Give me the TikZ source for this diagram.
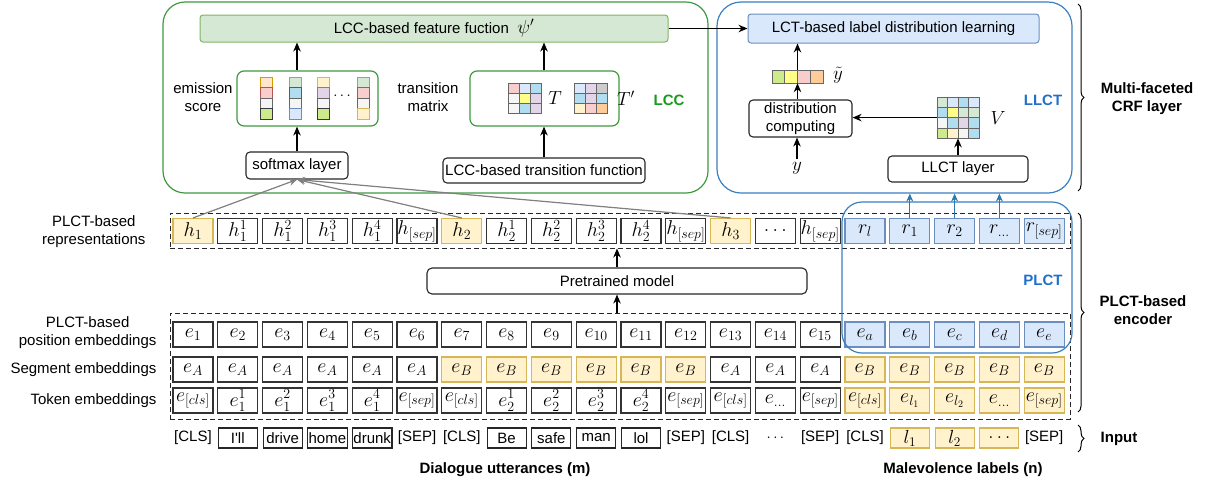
\RequirePackage{fix-cm}
\documentclass[tikz,border=0pt]{standalone}
\usepackage[no-math]{fontspec}
\setmainfont{Liberation Sans}
\usetikzlibrary{arrows.meta,decorations.pathreplacing,calc}

\definecolor{f-or}{HTML}{FFE6CC}\definecolor{d-or}{HTML}{D79B00}
\definecolor{f-rd}{HTML}{F8CECC}\definecolor{d-rd}{HTML}{B85450}
\definecolor{f-gy}{HTML}{F5F5F5}\definecolor{d-gy}{HTML}{666666}
\definecolor{f-lm}{HTML}{CDEB8B}\definecolor{d-lm}{HTML}{36393D}
\definecolor{f-gn}{HTML}{D5E8D4}\definecolor{d-gn}{HTML}{82B366}
\definecolor{f-bl}{HTML}{B1DDF0}\definecolor{d-bl}{HTML}{10739E}
\definecolor{f-lb}{HTML}{DAE8FC}\definecolor{d-lb}{HTML}{6C8EBF}
\definecolor{f-yl}{HTML}{FFF2CC}\definecolor{d-yl}{HTML}{D6B656}
\definecolor{f-pu}{HTML}{E1D5E7}\definecolor{d-pu}{HTML}{9673A6}
\definecolor{f-y2}{HTML}{FFFF88}\definecolor{d-y2}{HTML}{36393D}
\definecolor{f-o2}{HTML}{FFCC99}\definecolor{d-o2}{HTML}{36393D}
\definecolor{f-g2}{HTML}{CCCCCC}\definecolor{d-g2}{HTML}{666666}
\definecolor{lccgreen}{HTML}{3E9A3E}
\definecolor{lcctext}{HTML}{1A9A1A}
\definecolor{llctblue}{HTML}{3A80C0}
\definecolor{llcttext}{HTML}{2070C8}
\definecolor{arrblue}{HTML}{2A7AB0}

\newcommand\mcell[6]{\filldraw[fill=#5,draw=#6,line width=0.8pt] (#1,#2) rectangle ++(#3,#4);}

\tikzset{
  base/.style={font=\fontsize{15}{18}\selectfont},
  lblb/.style={font=\fontsize{15}{18}\selectfont\bfseries, align=center},
  mathf/.style={font=\fontsize{19}{19}\selectfont},
  wcell/.style={draw=black!80, line width=1.1pt, fill=white, minimum width=40pt,
                minimum height=25pt, inner sep=0pt, font=\fontsize{20}{20}\selectfont},
  ycell/.style={wcell, draw=d-yl, fill=f-yl},
  bcell/.style={wcell, draw=d-lb, fill=f-lb},
  ibox/.style={draw=black!85, line width=1.1pt, minimum width=39pt, minimum height=20pt,
               inner sep=1pt, base},
  iybox/.style={ibox, draw=d-yl, fill=f-yl, font=\fontsize{19}{19}\selectfont},
  itxt/.style={inner sep=0pt, base},
  tbox/.style={draw=black!85, line width=1.1pt, rounded corners=4pt, inner sep=2pt, base},
  gbox/.style={draw=lccgreen, line width=1.2pt, rounded corners=7pt},
  featbox/.style={draw=d-gn, fill=f-gn, line width=1pt, rounded corners=3pt, base},
  lctbox/.style={draw=d-lb, fill=f-lb, line width=1pt, rounded corners=3pt, base},
  lccframe/.style={draw=lccgreen, line width=1.2pt, rounded corners=22pt},
  llctframe/.style={draw=llctblue, line width=1.2pt, rounded corners=24pt},
  plctframe/.style={draw=llctblue, line width=1.2pt, rounded corners=20pt},
  dashbox/.style={draw=black!85, line width=1pt, dash pattern=on 5pt off 3pt},
  arr/.style={-{Stealth[length=9pt,width=7.5pt]}, line width=1.2pt},
  garr/.style={-{Stealth[length=8pt,width=7pt]}, line width=1.2pt, draw=black!50, fill=black!50},
  barr/.style={-{Stealth[length=8pt,width=7pt]}, line width=1.1pt, draw=arrblue, fill=arrblue},
  brc/.style={decorate, decoration={brace, amplitude=6pt}, line width=1pt},
}

\begin{document}
\begin{tikzpicture}[x=1pt,y=-1pt]
\useasboundingbox (0,0) rectangle (1210,483);

% ---------------- outer frames
\node[lccframe, minimum width=545, minimum height=191] (lcc) at (435.5,97.5) {};
\node[llctframe, minimum width=355, minimum height=191] (llct) at (894.5,97.5) {};

% ---------------- LCC part
\node[featbox, minimum width=468, minimum height=27] (feat) at (434,28.5)
  {LCC-based feature fuction~~{\fontsize{19}{19}\selectfont$\psi'$}};
\node[lctbox, minimum width=291, minimum height=29] (lct) at (893.5,28.5)
  {LCT-based label distribution learning};

\node[gbox, minimum width=141, minimum height=55] (emis) at (307.5,98.5) {};
\node[base, align=center] (emislab) at (203,97.5) {emission\\score};
\node[tbox, minimum width=102, minimum height=27] (smax) at (297,165.5) {softmax layer};

\foreach \cx/\a/\b/\c/\d in {260.5/or/rd/gy/lm, 289.5/gn/bl/gy/lb, 317.5/yl/pu/gy/lm, 357.5/gn/rd/gy/yl}{
  \mcell{\cx}{77}{11.5}{10.5}{f-\a}{d-\a}
  \mcell{\cx}{87.5}{11.5}{10.5}{f-\b}{d-\b}
  \mcell{\cx}{98}{11.5}{10.5}{f-\c}{d-\c}
  \mcell{\cx}{108.5}{11.5}{10.5}{f-\d}{d-\d}
}
\node[base] (edots) at (342,96) {$\cdots$};

\node[gbox, minimum width=149, minimum height=55] (trans) at (544.5,98.5) {};
\node[base, align=center] (translab) at (428,97.5) {transition\\matrix};
\node[tbox, minimum width=202, minimum height=25] (tfun) at (544,170.5) {LCC-based transition function};

\foreach \row [count=\ri from 0] in {{rd,lb,bl},{gy,y2,pu},{gy,bl,pu}}{
  \foreach \c [count=\ci from 0] in \row {
    \mcell{508+11*\ci}{83+10*\ri}{11}{10}{f-\c}{d-gy}
  }
}
\foreach \row [count=\ri from 0] in {{lb,pu,g2},{bl,pu,bl},{yl,rd,o2}}{
  \foreach \c [count=\ci from 0] in \row {
    \mcell{574+11*\ci}{83+10*\ri}{11}{10}{f-\c}{d-gy}
  }
}
\node[mathf] (tlab) at (555,98) {$T$};
\node[mathf] (tplab) at (626,98) {$T'$};
\node[lblb, text=lcctext] (lcclab) at (669,100) {LCC};

% ---------------- LLCT part
\node[minimum width=51, minimum height=13, inner sep=0pt] (ytil) at (797.5,76.5) {};
\foreach \c [count=\ci from 0] in {lm,y2,rd,o2}{
  \mcell{772+12.75*\ci}{70}{12.75}{13}{f-\c}{d-gy}
}
\node[mathf] (ytillab) at (838,75) {$\tilde y$};
\node[tbox, minimum width=103, minimum height=37, align=center] (dist) at (800.5,118.5)
  {distribution\\computing};
\node[mathf] (ylab) at (797,168) {$y$};

\node[minimum width=42, minimum height=41.2, inner sep=0pt] (vmat) at (958,117.6) {};
\foreach \row [count=\ri from 0] in {{gn,lb,bl,lb},{bl,y2,gn,gn},{gy,bl,pu,bl},{lm,yl,gy,bl}}{
  \foreach \c [count=\ci from 0] in \row {
    \mcell{937+10.5*\ci}{97+10.3*\ri}{10.5}{10.3}{f-\c}{d-gy}
  }
}
\node[mathf] (vlab) at (998,118) {$V$};
\node[tbox, minimum width=140, minimum height=26] (llctl) at (958,169) {LLCT layer};
\node[lblb, text=llcttext] (llctlab) at (1043,100) {LLCT};

% ---------------- encoder dashed boxes
\node[dashbox, minimum width=900, minimum height=35] (repbox) at (620,230.5) {};
\node[dashbox, minimum width=900, minimum height=106] (embbox) at (620,366) {};

% representations
\foreach \s/\c [count=\i from 0] in {
  ycell/{$h_1$}, wcell/{$h_1^1$}, wcell/{$h_1^2$}, wcell/{$h_1^3$}, wcell/{$h_1^4$}, wcell/{$h_{[sep]}$},
  ycell/{$h_2$}, wcell/{$h_2^1$}, wcell/{$h_2^2$}, wcell/{$h_2^3$}, wcell/{$h_2^4$}, wcell/{$h_{[sep]}$},
  ycell/{$h_3$}, wcell/{$\dots$}, wcell/{$h_{[sep]}$},
  bcell/{$r_l$}, bcell/{$r_1$}, bcell/{$r_2$}, bcell/{$r_{\dots}$}, bcell/{$r_{[sep]}$}}{
  \node[\s] (r\i) at ({193+44.8*\i},231) {\c};
}

% position embeddings
\foreach \i [evaluate=\i as \n using int(\i+1)] in {0,...,14}{
  \node[wcell] (p\i) at ({193+44.8*\i},334.5) {$e_{\n}$};
}
\foreach \c [count=\i from 15] in {a,b,c,d,e}{
  \node[bcell] (p\i) at ({193+44.8*\i},334.5) {$e_\c$};
}

% segment embeddings
\foreach \s/\c [count=\i from 0] in {
  wcell/A, wcell/A, wcell/A, wcell/A, wcell/A, wcell/A,
  ycell/B, ycell/B, ycell/B, ycell/B, ycell/B, ycell/B,
  wcell/A, wcell/A, wcell/A,
  ycell/B, ycell/B, ycell/B, ycell/B, ycell/B}{
  \node[\s] (s\i) at ({193+44.8*\i},369.5) {$e_\c$};
}

% token embeddings
\foreach \s/\c [count=\i from 0] in {
  wcell/{$e_{[cls]}$}, wcell/{$e_1^1$}, wcell/{$e_1^2$}, wcell/{$e_1^3$}, wcell/{$e_1^4$}, wcell/{$e_{[sep]}$},
  wcell/{$e_{[cls]}$}, wcell/{$e_2^1$}, wcell/{$e_2^2$}, wcell/{$e_2^3$}, wcell/{$e_2^4$}, wcell/{$e_{[sep]}$},
  wcell/{$e_{[cls]}$}, wcell/{$e_{\dots}$}, wcell/{$e_{[sep]}$},
  ycell/{$e_{[cls]}$}, ycell/{$e_{l_1}$}, ycell/{$e_{l_2}$}, ycell/{$e_{\dots}$}, ycell/{$e_{[sep]}$}}{
  \node[\s] (t\i) at ({193+44.8*\i},400.5) {\c};
}

% input row
\foreach \s/\c [count=\i from 0] in {
  itxt/{[CLS]}, ibox/{I\textquotesingle ll}, ibox/{drive}, ibox/{home}, ibox/{drunk}, itxt/{[SEP]},
  itxt/{[CLS]}, ibox/{Be}, ibox/{safe}, ibox/{man}, ibox/{lol}, itxt/{[SEP]},
  itxt/{[CLS]}, itxt/{$\cdots$}, itxt/{[SEP]},
  itxt/{[CLS]}, iybox/{$l_1$}, iybox/{$l_2$}, iybox/{$\dots$}, itxt/{[SEP]}}{
  \node[\s] (in\i) at ({193+44.8*\i},438) {\c};
}

% PLCT frame
\node[plctframe, minimum width=230, minimum height=151] (plct) at (957,277.5) {};
\node[lblb, text=llcttext] (plctlab) at (1043,280) {PLCT};

% pretrained model
\node[tbox, minimum width=380, minimum height=26, rounded corners=5pt] (pre) at (617,281) {Pretrained model};

% left labels
\node[base, align=center, anchor=east] (lrep) at (149,231.5) {PLCT-based\\representations};
\node[base, align=center, anchor=east] (lpos) at (160,333) {PLCT-based\\position embeddings};
\node[base, anchor=east] (lseg) at (160,369.5) {Segment embeddings};
\node[base, anchor=east] (ltok) at (160,400.5) {Token embeddings};

% bottom labels
\node[lblb] (dlg) at (505,470) {Dialogue utterances (m)};
\node[lblb] (mal) at (963,470) {Malevolence labels (n)};

% braces and right labels
\draw[brc] (1078,4) -- (1078,191);
\node[lblb] (mfcrf) at (1147,99) {Multi-faceted\\CRF layer};
\draw[brc] (1078,213) -- (1078,412);
\node[lblb] (plcten) at (1143,310) {PLCT-based\\encoder};
\draw[brc] (1078,425) -- (1078,452);
\node[lblb] (inlab) at (1119,439) {Input};

% ---------------- connectors
\draw[arr] (feat.east) -- (lct.west);
\draw[arr] (smax.north) -- (smax.north |- emis.south);
\draw[arr] (smax.north |- emis.north) -- (smax.north |- feat.south);
\draw[arr] (tfun.north) -- (tfun.north |- trans.south);
\draw[arr] (tfun.north |- trans.north) -- (tfun.north |- feat.south);
\draw[arr] (ytil.north) -- (ytil.north |- lct.south);
\draw[arr] (dist.north -| ytil.south) -- (ytil.south);
\draw[arr] (ylab.north) -- (ylab.north |- dist.south);
\draw[arr] (vmat.west) -- (vmat.west -| dist.east);
\draw[arr] (llctl.north) -- (vmat.south);
\draw[arr] (pre.south |- embbox.north) -- (pre.south);
\draw[arr] (pre.north) -- (pre.north |- repbox.south);

\draw[garr] (r0.north) -- (smax.south);
\draw[garr] (r6.north) -- (smax.south);
\draw[garr] (r12.north) -- (smax.south);

\foreach \k in {16,17,18}{
  \draw[barr] (r\k.north) -- (r\k.north |- llct.south);
}
\end{tikzpicture}
\end{document}
